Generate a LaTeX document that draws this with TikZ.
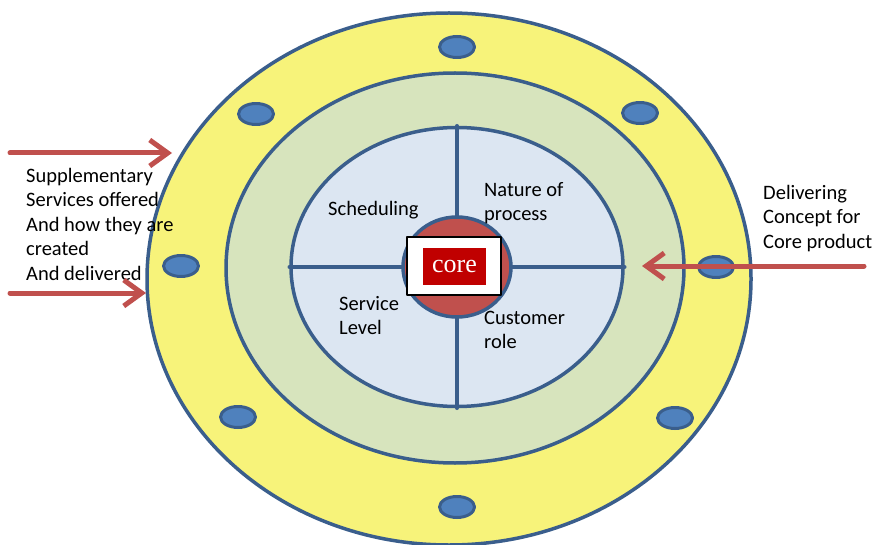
\documentclass[tikz,border=0pt]{standalone}
\usepackage{fontspec}
\setmainfont{Carlito}
\newfontfamily\coreface{Liberation Serif}
\usetikzlibrary{shapes.geometric,arrows.meta}
\definecolor{ringyellow}{HTML}{F7F37A}
\definecolor{ringgreen}{HTML}{D7E4BD}
\definecolor{ringblue}{HTML}{DCE6F2}
\definecolor{edgeblue}{HTML}{3A5E8C}
\definecolor{dotblue}{HTML}{4F81BD}
\definecolor{corered}{HTML}{C0504D}
\definecolor{boxred}{HTML}{C00000}
\tikzset{
	ring/.style={ellipse, draw=edgeblue, line width=3.5pt, inner sep=0pt},
	dot/.style={ellipse, draw=edgeblue, fill=dotblue, line width=3pt, minimum width=35pt, minimum height=21pt, inner sep=0pt},
	lbl/.style={align=left, anchor=base west, inner sep=0pt},
	feed/.style={corered, line width=5pt},
}
\begin{document}
\begin{tikzpicture}[x=1pt, y=-1pt, >={Straight Barb[length=18pt,width=26pt]}, font=\fontsize{20.5}{24.5}\selectfont, line join=round, line cap=round]
	\useasboundingbox (0,0) rectangle (877,545);
	% rings
	\node[ring, fill=ringyellow, minimum width=604pt, minimum height=532pt] (outer) at (449,279) {};
	\foreach \nm/\px/\py in {d1/457/47, d2/256/114, d3/640/113, d4/181/266, d5/716/267, d6/238/417, d7/675/418, d8/457/507}
		\node[dot] (\nm) at (\px,\py) {};
	\node[ring, fill=ringgreen, minimum width=458pt, minimum height=390pt] (middle) at (455,268) {};
	\node[ring, fill=ringblue, minimum width=332pt, minimum height=279pt] (inner) at (457,267) {};
	\draw[edgeblue, line width=3.5pt] (inner.north) -- (inner.south);
	\draw[edgeblue, line width=3.5pt] (inner.west) -- (inner.east);
	% core
	\node[ring, fill=corered, minimum width=108pt, minimum height=100pt] (core) at (457,267) {};
	\node[draw=black, fill=white, line width=1.2pt, minimum width=94pt, minimum height=58pt] (frame) at (454,266) {};
	\node[fill=boxred, text=white, minimum width=63pt, minimum height=37pt, inner sep=0pt, font=\coreface\fontsize{26}{30}\selectfont] (corebox) at (454.5,266.5) {core};
	% labels (base = last line)
	\node[lbl] (sched) at (328,216) {Scheduling};
	\node[lbl] (nature) at (484,220.5) {Nature of\\process};
	\node[lbl] (level) at (339,334.5) {Service\\Level};
	\node[lbl] (role) at (484,348.5) {Customer\\role};
	\node[lbl] (supp) at (26,280) {Supplementary\\Services offered\\And how they are\\created\\And delivered};
	\node[lbl] (deliv) at (763,248) {Delivering\\Concept for\\Core product};
	% arrows
	\coordinate (s1) at (10,153); \coordinate (e1) at (172,153);
	\coordinate (s2) at (10,293); \coordinate (e2) at (146,293);
	\coordinate (s3) at (864,266); \coordinate (e3) at (642,266);
	\draw[feed,->] (s1) -- (e1);
	\draw[feed,->] (s2) -- (e2);
	\draw[feed,->] (s3) -- (e3);
\end{tikzpicture}
\end{document}
